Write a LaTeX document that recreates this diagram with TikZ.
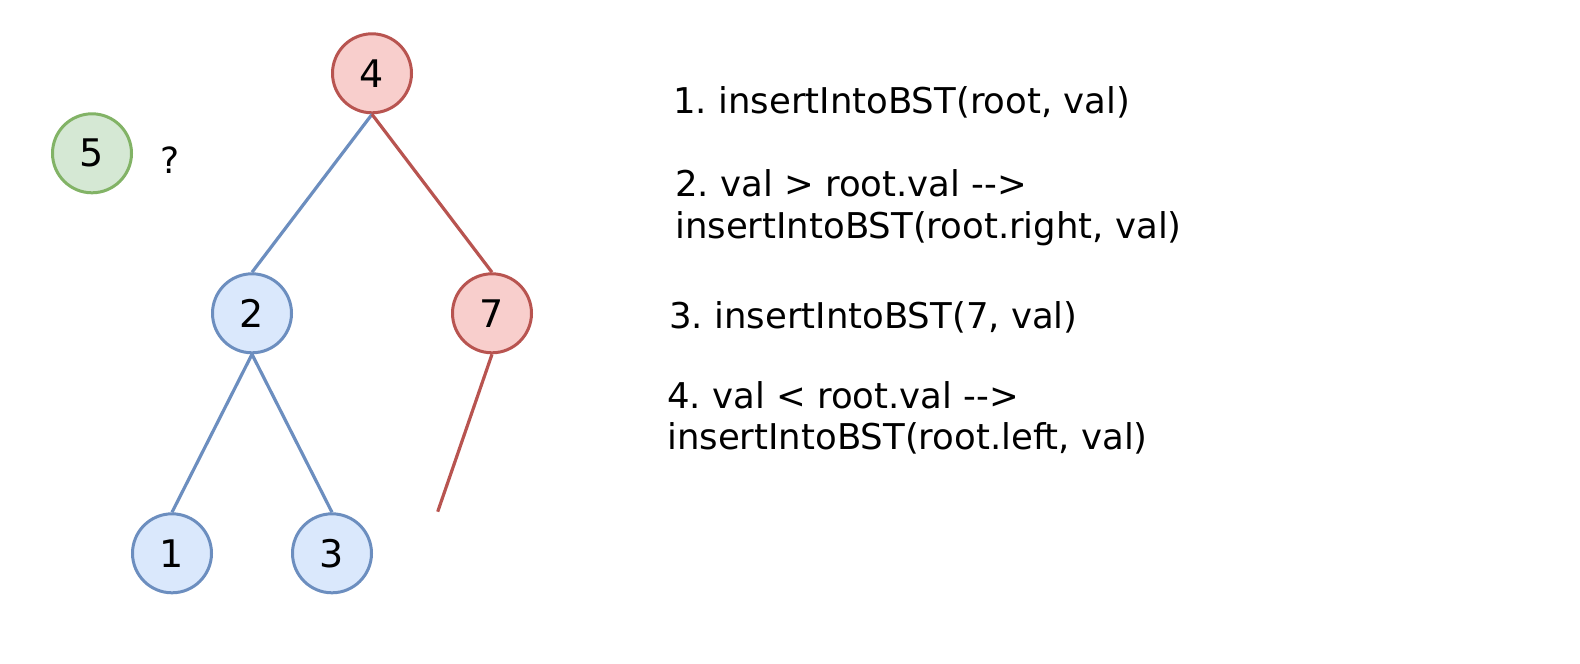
\documentclass[tikz,border=0pt]{standalone}
\usepackage{fontspec}
\setmainfont{DejaVu Sans}
\frenchspacing
\definecolor{redfill}{HTML}{F8CECC}
\definecolor{redline}{HTML}{B85450}
\definecolor{bluefill}{HTML}{DAE8FC}
\definecolor{blueline}{HTML}{6C8EBF}
\definecolor{greenfill}{HTML}{D5E8D4}
\definecolor{greenline}{HTML}{82B366}
\tikzset{
  treenode/.style={circle, line width=3pt, minimum size=79pt, inner sep=0pt, font=\fontsize{38}{44}\selectfont},
  rednode/.style={treenode, draw=redline, fill=redfill},
  bluenode/.style={treenode, draw=blueline, fill=bluefill},
  greennode/.style={treenode, draw=greenline, fill=greenfill},
  rededge/.style={draw=redline, line width=3.2pt},
  blueedge/.style={draw=blueline, line width=3.2pt},
  steptext/.style={anchor=base west, inner sep=0pt, align=left, font=\fontsize{35.5}{41.5}\selectfont},
}
\begin{document}
\begin{tikzpicture}[x=1pt, y=-1pt]
\useasboundingbox (0,0) rectangle (1580,664);
\node[rednode] (n4) at (372,73.3) {4};
\node[greennode] (n5) at (92,153.3) {5};
\node[font=\fontsize{36}{40}\selectfont, inner sep=0pt] (q) at (170,160) {?};
\node[bluenode] (n2) at (252,313.3) {2};
\node[rednode] (n7) at (492,313.3) {7};
\node[bluenode] (n1) at (172,553.3) {1};
\node[bluenode] (n3) at (332,553.3) {3};
\coordinate (nil) at (437.7,511.7);

\draw[blueedge] (n4.south) -- (n2.north);
\draw[rededge] (n4.south) -- (n7.north);
\draw[blueedge] (n2.south) -- (n1.north);
\draw[blueedge] (n2.south) -- (n3.north);
\draw[rededge] (n7.south) -- (nil);

\node[steptext] (s1) at (673,113) {1. insertIntoBST(root, val)};
\node[steptext] (s2) at (675,238) {2. val > root.val -{}-{}>\\insertIntoBST(root.right, val)};
\node[steptext] (s3) at (669,328.5) {3. insertIntoBST(7, val)};
\node[steptext] (s4) at (667,449.5) {4. val < root.val -{}-{}>\\insertIntoBST(root.left, val)};
\end{tikzpicture}
\end{document}
